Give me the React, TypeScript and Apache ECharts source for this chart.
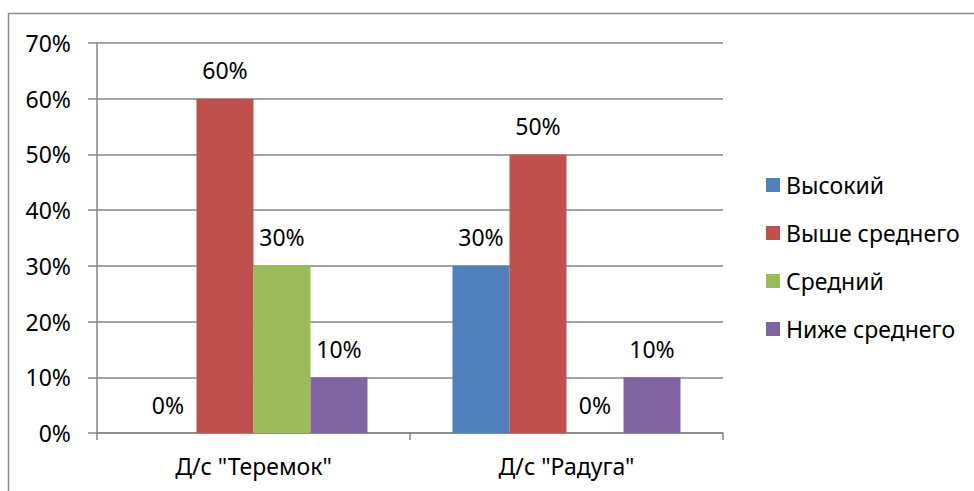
import React, { useEffect, useRef } from "react";
import * as echarts from "echarts";

const categories = ['Д/с "Теремок"', 'Д/с "Радуга"'];
const seriesNames = ["Высокий", "Выше среднего", "Средний", "Ниже среднего"];
const seriesValues = [
  [0, 30],
  [60, 50],
  [30, 0],
  [10, 10],
];
const colors = ["#4F81BD", "#C0504D", "#9BBB59", "#8064A2"];
const yTicks = [0, 10, 20, 30, 40, 50, 60, 70];

const FONT = "'Noto Sans', 'Open Sans', sans-serif";
const FS = 23;

export default function App() {
  const ref = useRef<HTMLDivElement>(null);
  useEffect(() => {
    if (!ref.current) return;
    const chart = echarts.init(ref.current, null, { renderer: "svg" });
    chart.setOption({
      animation: false,
      backgroundColor: "#ffffff",
      textStyle: { fontFamily: FONT },
      graphic: [
        {
          type: "rect",
          shape: { x: 8.5, y: 13.5, width: 1200, height: 1000 },
          style: { fill: "none", stroke: "#8c8c8c", lineWidth: 1.5 },
          silent: true,
          z: -1,
        },
      ],
      grid: { left: 97, right: 251, top: 43, bottom: 58, containLabel: false },
      legend: {
        orient: "vertical",
        left: 766,
        top: 173,
        padding: 0,
        itemWidth: 14,
        itemHeight: 14,
        itemGap: 24,
        icon: "rect",
        data: seriesNames,
        textStyle: { fontSize: FS, lineHeight: 24, color: "#000", fontFamily: FONT, padding: [0, 0, 0, 1] },
      },
      xAxis: {
        type: "category",
        data: categories,
        axisLine: { lineStyle: { color: "#868686", width: 1.5 } },
        axisTick: { show: true, length: 7, alignWithLabel: false, lineStyle: { color: "#868686", width: 1.5 } },
        axisLabel: { fontSize: FS, color: "#000", margin: 21, fontFamily: FONT },
      },
      yAxis: {
        type: "value",
        min: 0,
        max: 70,
        interval: 10,
        axisLine: { show: true, lineStyle: { color: "#868686", width: 1.5 } },
        axisTick: { show: true, length: 9, lineStyle: { color: "#868686", width: 1.5 } },
        splitLine: { show: true, lineStyle: { color: "#868686", width: 1.5 } },
        axisLabel: {
          fontSize: FS,
          color: "#000",
          margin: 26,
          fontFamily: FONT,
          formatter: (v: number) => (yTicks.includes(v) ? v + "%" : ""),
        },
      },
      series: seriesNames.map((name, i) => ({
        name,
        type: "bar",
        data: seriesValues[i],
        barWidth: 57,
        barGap: "0%",
        itemStyle: { color: colors[i] },
        label: {
          show: true,
          position: "top",
          distance: 17,
          fontSize: FS,
          color: "#000",
          fontFamily: FONT,
          formatter: (p: any) => p.value + "%",
        },
      })),
    });
    return () => chart.dispose();
  }, []);
  return (
    <div
      ref={ref}
      style={{ position: "absolute", left: 0, top: 0, width: 974, height: 491 }}
    />
  );
}
